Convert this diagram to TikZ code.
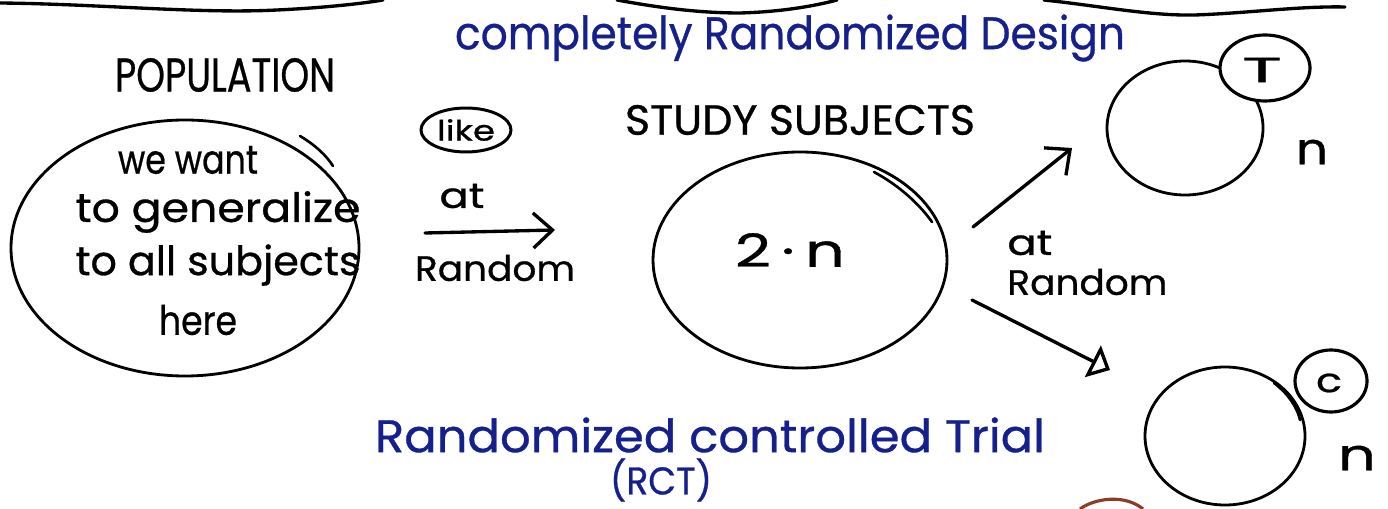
\documentclass[tikz,border=0pt]{standalone}
\usepackage{fontspec}
\setmainfont{Poppins}[FakeBold=0.7]
\usetikzlibrary{shapes.geometric,arrows.meta}
\newlength\pxu \setlength\pxu{0.02cm}
% #1 width in px, #2 font size in pt, #3 text
\newcommand\fw[3]{\resizebox{#1\pxu}{\height}{\fontsize{#2}{#2}\selectfont #3}}
\definecolor{inkblue}{RGB}{22,32,140}
\definecolor{inkbrown}{RGB}{140,60,40}
\begin{document}
\begin{tikzpicture}[x=0.02cm,y=-0.02cm,
  ink/.style={line width=1.9pt, line cap=round, line join=round},
  thinink/.style={line width=1.5pt, line cap=round},
  blob/.style={ellipse, draw, line width=1.6pt, inner sep=0pt},
  bubble/.style={ellipse, draw, line width=1.8pt, inner sep=0pt, fill=white},
  lbl/.style={inner sep=0pt, text=black},
  bluelbl/.style={inner sep=0pt, text=inkblue},
  barb/.style={ink, -{Straight Barb[length=11pt,width=20pt]}},
  tri/.style={ink, -{Triangle[open,length=11pt,width=20pt]}}]
\useasboundingbox (0,0) rectangle (1388,509);
% top wavy border strokes
\draw[ink] (0,3) .. controls (100,4) and (200,14) .. (277,10) .. controls (320,8) and (360,4) .. (383,0);
\draw[ink] (617,0) .. controls (660,8) and (700,13) .. (740,13) .. controls (780,12) and (815,6) .. (837,0);
\draw[ink] (1044,0) .. controls (1100,6) and (1150,16) .. (1195,15) .. controls (1250,13) and (1300,6) .. (1345,7);
% titles
\node[bluelbl] (title) at (790,38) {\fw{670}{26}{completely Randomized Design}};
\node[lbl] (poplbl) at (225,75) {\fw{220}{27}{POPULATION}};
\node[lbl] (studylbl) at (800,120) {\fw{350}{24}{STUDY SUBJECTS}};
% population
\node[blob, minimum width=348\pxu, minimum height=256\pxu] (pop) at (185,248) {};
\draw[thinink] (300,136) .. controls (315,145) and (326,155) .. (333,166);
\node[lbl] (p1) at (188,160) {\fw{140}{23}{we want}};
\node[lbl] (p2) at (218,212) {\fw{285}{23}{to generalize}};
\node[lbl] (p3) at (218,265) {\fw{285}{23}{to all subjects}};
\node[lbl] (p4) at (198,320) {\fw{78}{23}{here}};
% like / at random
\node[ellipse, draw, line width=1.7pt, inner sep=0pt, minimum width=90\pxu, minimum height=44\pxu] (likeo) at (466,130) {};
\node[lbl] (like) at (466,130) {\fw{58}{16}{like}};
\node[lbl] (at1) at (462,196) {\fw{45}{20}{at}};
\node[lbl] (rand1) at (495,268) {\fw{160}{20}{Random}};
\coordinate (a1s) at (425,233);
\coordinate (a1e) at (555,230);
\draw[barb] (a1s) -- (a1e);
% study subjects
\node[blob, minimum width=294\pxu, minimum height=216\pxu] (study) at (800,260) {};
\draw[thinink] (874,172) .. controls (900,186) and (920,205) .. (932,222);
\node[lbl] (twon) at (790,250) {\fw{110}{26}{2\,·\,n}};
% arrows to groups
\coordinate (a2s) at (973,227);
\coordinate (a2e) at (1072,148);
\draw[barb] (a2s) -- (a2e);
\coordinate (a3s) at (972,300);
\coordinate (a3e) at (1110,370);
\draw[tri] (a3s) -- (a3e);
\node[lbl, anchor=west] (at2) at (1007,243) {\fw{45}{20}{at}};
\node[lbl, anchor=west] (rand2) at (1007,282) {\fw{160}{20}{Random}};
% treatment group
\node[blob, minimum width=156\pxu, minimum height=134\pxu] (tg) at (1185,128) {};
\node[bubble, minimum width=90\pxu, minimum height=66\pxu] (tb) at (1265,68) {};
\node[lbl] (T) at (1262,70) {\fw{40}{20}{T}};
\node[lbl] (n1) at (1312,152) {\fw{32}{25}{n}};
% control group
\node[blob, minimum width=160\pxu, minimum height=138\pxu] (cg) at (1225,436) {};
\draw[thinink] (1274,383) .. controls (1290,395) and (1298,410) .. (1300,420);
\node[bubble, minimum width=72\pxu, minimum height=62\pxu] (cb) at (1331,381) {};
\node[lbl] (C) at (1329,383) {\fw{26}{19}{c}};
\node[lbl] (n2) at (1357,458) {\fw{38}{25}{n}};
% bottom title
\node[bluelbl] (rct1) at (710,435) {\fw{670}{26}{Randomized controlled Trial}};
\node[bluelbl] (rct2) at (661,480) {\fw{102}{22}{(RCT)}};
% brown stroke at bottom
\draw[line width=1.8pt, inkbrown] (1080,509) .. controls (1095,498) and (1125,494) .. (1143,509);
\end{tikzpicture}
\end{document}
